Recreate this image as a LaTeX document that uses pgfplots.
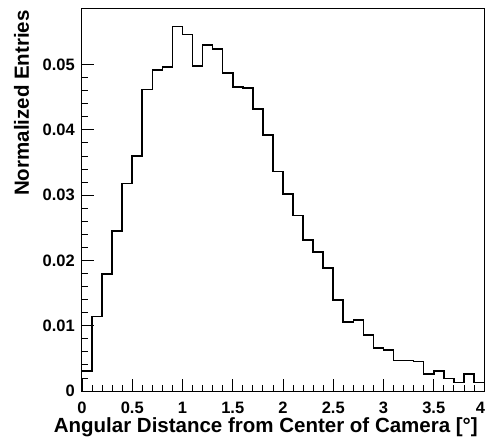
\documentclass[border=0pt]{standalone}
\usepackage{fontspec}
\setmainfont{Liberation Sans}
\usepackage{pgfplots}
\pgfplotsset{compat=1.18}
\usetikzlibrary{calc}
\begin{document}
\begin{tikzpicture}
\path[use as bounding box] (-82bp,-52bp) rectangle (405bp,391bp);
\begin{axis}[
  at={(0,0)}, anchor=south west,
  scale only axis, width=402bp, height=382bp,
  xmin=0, xmax=4, ymin=0, ymax=0.0585,
  scaled y ticks=false, scaled x ticks=false,
  axis line style={line width=1bp, black},
  tick pos=left, tick align=inside,
  major tick length=12bp, minor tick length=6bp,
  every tick/.style={black, line width=0.8bp},
  xtick={0,0.5,1,1.5,2,2.5,3,3.5,4},
  xticklabels={0,0.5,1,1.5,2,2.5,3,3.5,\hspace*{-7bp}4},
  ytick={0,0.01,0.02,0.03,0.04,0.05},
  yticklabels={0,0.01,0.02,0.03,0.04,0.05},
  minor x tick num=4, minor y tick num=4,
  ticklabel style={font=\fontsize{16.5bp}{18bp}\selectfont\bfseries, inner sep=0pt},
  yticklabel style={anchor=east, xshift=-7bp},
  xticklabel style={anchor=north, yshift=-11bp},
  xlabel={Angular Distance from Center of Camera [°]},
  ylabel={Normalized Entries},
  label style={font=\fontsize{20.5bp}{22bp}\selectfont\bfseries, inner sep=0pt},
  xlabel style={at={($(rel axis cs:1,0)+(-6bp,-41bp)$)}, anchor=base east},
  ylabel style={at={($(rel axis cs:0,1)+(-53bp,-1bp)$)}, anchor=base east},
]
\addplot[const plot mark left, black, line width=1.6bp] coordinates {
(0.0,0.0031) (0.1,0.0114) (0.2,0.0179) (0.3,0.0245) (0.4,0.0318)
(0.5,0.0360) (0.6,0.0462) (0.7,0.0492) (0.8,0.0496) (0.9,0.0558)
(1.0,0.0546) (1.1,0.0498) (1.2,0.0530) (1.3,0.0524) (1.4,0.0487)
(1.5,0.0466) (1.6,0.0464) (1.7,0.0432) (1.8,0.0392) (1.9,0.0336)
(2.0,0.0302) (2.1,0.0269) (2.2,0.0231) (2.3,0.0213) (2.4,0.0188)
(2.5,0.0139) (2.6,0.0106) (2.7,0.0109) (2.8,0.0086) (2.9,0.0066)
(3.0,0.0063) (3.1,0.0047) (3.2,0.0047) (3.3,0.0045) (3.4,0.0026)
(3.5,0.0031) (3.6,0.0019) (3.7,0.0013) (3.8,0.0026) (3.9,0.0013)
(4.0,0.0013)
};
\end{axis}
\end{tikzpicture}
\end{document}
